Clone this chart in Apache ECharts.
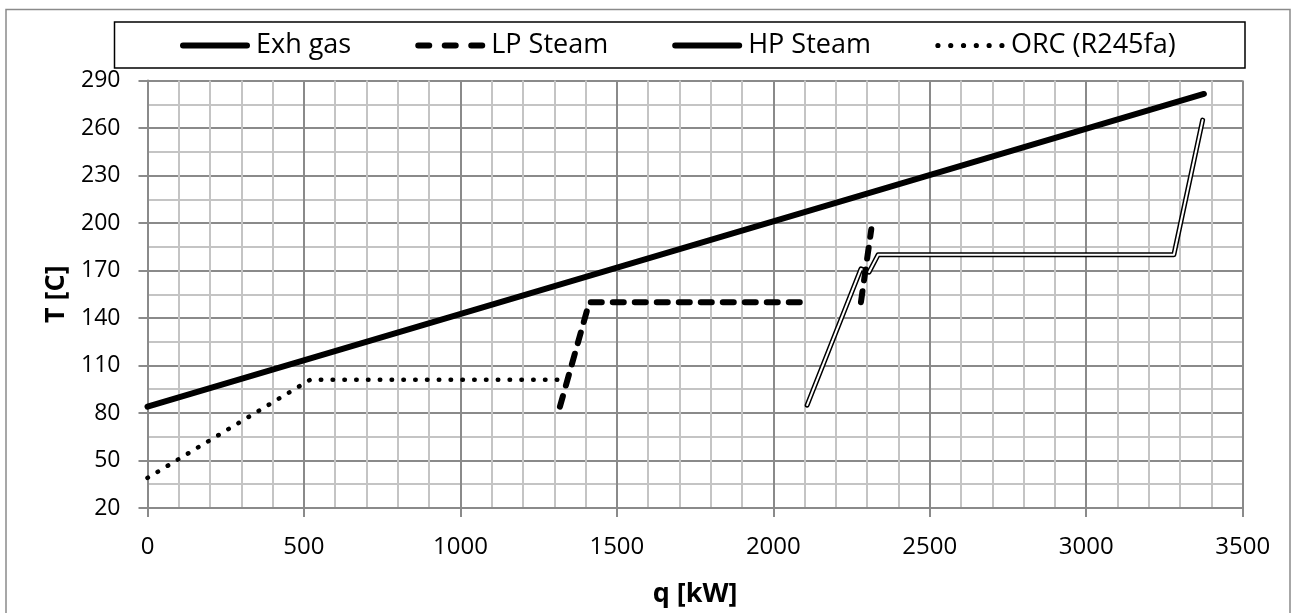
<!DOCTYPE html>
<html>
<head>
<meta charset="utf-8">
<script src="https://cdn.jsdelivr.net/npm/echarts@6/dist/echarts.min.js"></script>
<style>
html,body{margin:0;padding:0;background:#fff;}
#c{width:1291px;height:613px;}
</style>
</head>
<body>
<div id="c"></div>
<script>
// ---- data (q in kW, T in C) ----
const seriesNames = ['Exh gas', 'LP Steam', 'HP Steam', 'ORC (R245fa)'];
const exhQ = [0, 3376];
const exhT = [84, 281.5];
const lpQ = [1318, 1412, 2112, null, 2280, 2313];
const lpT = [84, 150, 150, null, 150, 196];
const hpQ = [2108, 2280, 2306, 2335, 3280, 3372];
const hpT = [85, 171, 169, 180, 180, 265];
const orcQ = [0, 520, 1310];
const orcT = [39, 101, 101];
const xMin = 0, xMax = 3500, xStep = 500;
const yMin = 20, yMax = 290, yStep = 30;
const xTitle = 'q [kW]';
const yTitle = 'T [C]';

function pairs(qs, ts) {
  return qs.map((q, i) => (q === null ? ['-', '-'] : [q, ts[i]]));
}

// legend icon shapes (70 x 6 boxes)
function bar(a, b) {
  return 'M' + (a + 3) + ',0H' + (b - 3) + 'A3,3,0,0,1,' + (b - 3) + ',6H' + (a + 3) + 'A3,3,0,0,1,' + (a + 3) + ',0Z';
}
function dot(cx) {
  return 'M' + (cx - 2.6) + ',3A2.6,2.6,0,1,0,' + (cx + 2.6) + ',3A2.6,2.6,0,1,0,' + (cx - 2.6) + ',3Z';
}
const iconSolid = 'path://' + bar(0, 70) + 'M0,0.01L0.01,0.01M70,5.99L69.99,5.99';
const iconDash = 'path://' + bar(0, 17) + bar(26.5, 43.5) + bar(53, 70);
const iconDot = 'path://' + [3, 15.8, 28.6, 41.4, 54.2, 67].map(dot).join('') + 'M0,0L0.01,0M70,6L69.99,6';

const FONT = '"Open Sans", "Noto Sans", sans-serif';
const chart = echarts.init(document.getElementById('c'), null, {renderer: 'canvas'});

const option = {
  animation: false,
  backgroundColor: '#fff',
  textStyle: {fontFamily: FONT, color: '#000'},
  graphic: [
    {type: 'rect', shape: {x: 6, y: 9.5, width: 1284, height: 610},
     style: {fill: 'none', stroke: '#8a8a8a', lineWidth: 1.5}, silent: true, z: -10},
    {type: 'rect', shape: {x: 114.5, y: 22, width: 1130.5, height: 46},
     style: {fill: 'none', stroke: '#000', lineWidth: 1.5}, silent: true, z: 1}
  ],
  legend: {
    data: [
      {name: seriesNames[0], icon: iconSolid},
      {name: seriesNames[1], icon: iconDash},
      {name: seriesNames[2], icon: iconSolid},
      {name: seriesNames[3], icon: iconDot}
    ],
    left: 180,
    top: 32,
    padding: 0,
    itemWidth: 70,
    itemHeight: 6,
    itemGap: 64,
    itemStyle: {color: '#000', borderWidth: 0},
    textStyle: {fontFamily: FONT, fontSize: 27, color: '#000', padding: [0, 0, 0, 1]}
  },
  grid: {left: 147.5, right: 48.3, top: 80.5, bottom: 101.3, containLabel: false},
  xAxis: {
    type: 'value', min: xMin, max: xMax, interval: xStep,
    name: xTitle, nameLocation: 'middle', nameGap: 73,
    nameTextStyle: {fontFamily: FONT, fontSize: 27, fontWeight: 'bold', color: '#000'},
    axisLine: {show: true, lineStyle: {color: '#8a8a8a', width: 2}},
    axisTick: {show: true, inside: false, length: 9, lineStyle: {color: '#8a8a8a', width: 2}},
    axisLabel: {fontFamily: FONT, fontSize: 24, color: '#000', margin: 27,
                formatter: v => String(v)},
    splitLine: {show: true, lineStyle: {color: '#8a8a8a', width: 2}},
    minorTick: {show: false, splitNumber: 5},
    minorSplitLine: {show: true, lineStyle: {color: '#c4c4c4', width: 2}}
  },
  yAxis: {
    type: 'value', min: yMin, max: yMax, interval: yStep,
    name: yTitle, nameLocation: 'middle', nameGap: 78, nameRotate: 90,
    nameTextStyle: {fontFamily: FONT, fontSize: 27, fontWeight: 'bold', color: '#000'},
    axisLine: {show: true, lineStyle: {color: '#8a8a8a', width: 2}},
    axisTick: {show: true, inside: false, length: 9, lineStyle: {color: '#8a8a8a', width: 2}},
    axisLabel: {fontFamily: FONT, fontSize: 23, color: '#000', margin: 27,
                formatter: v => String(v)},
    splitLine: {show: true, lineStyle: {color: '#8a8a8a', width: 2}},
    minorTick: {show: false, splitNumber: 2},
    minorSplitLine: {show: true, lineStyle: {color: '#c4c4c4', width: 2}}
  },
  series: [
    {
      name: seriesNames[0], type: 'line', data: pairs(exhQ, exhT),
      symbol: 'none', z: 5,
      lineStyle: {color: '#000', width: 6, cap: 'round'},
      itemStyle: {color: '#000'}
    },
    {
      name: seriesNames[2], type: 'line', data: pairs(hpQ, hpT),
      symbol: 'none', z: 3,
      lineStyle: {color: '#000', width: 5, cap: 'round', join: 'round'},
      itemStyle: {color: '#000'}
    },
    {
      name: 'hp-inner', type: 'line', data: pairs(hpQ, hpT),
      symbol: 'none', z: 4, silent: true,
      lineStyle: {color: '#fff', width: 2, cap: 'round', join: 'round'},
      itemStyle: {color: '#fff'}
    },
    {
      name: seriesNames[1], type: 'line', data: pairs(lpQ, lpT),
      symbol: 'none', z: 6, connectNulls: false,
      lineStyle: {color: '#000', width: 6, type: [11, 11], cap: 'round'},
      itemStyle: {color: '#000'}
    },
    {
      name: seriesNames[3], type: 'line', data: pairs(orcQ, orcT),
      symbol: 'none', z: 7,
      lineStyle: {color: '#000', width: 4.5, type: [0.5, 11.3], cap: 'round'},
      itemStyle: {color: '#000'}
    }
  ]
};
chart.setOption(option);
</script>
</body>
</html>
